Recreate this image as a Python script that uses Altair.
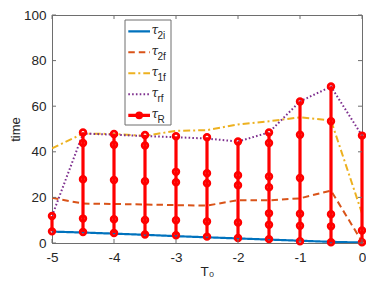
import altair as alt
import pandas as pd

# ---------------- data ----------------
x_vals = [-5, -4.5, -4, -3.5, -3, -2.5, -2, -1.5, -1, -0.5, 0]
tau_2i = [5.0, 4.6, 4.1, 3.6, 3.0, 2.5, 2.0, 1.5, 1.0, 0.5, 0.2]
tau_2f = [19.8, 17.3, 17.1, 16.9, 16.6, 16.4, 18.8, 18.7, 19.6, 23.0, 0.6]
tau_1f = [41.5, 48.0, 47.8, 47.0, 49.2, 49.5, 52.0, 53.4, 55.1, 53.8, 13.0]
tau_rf = [11.8, 48.0, 47.5, 46.9, 46.4, 45.8, 44.5, 48.5, 62.1, 68.6, 47.1]
tau_R = [
    [5.1, 11.8],
    [48.5, 43.9, 28.0, 10.7, 4.8],
    [47.8, 43.1, 27.6, 10.4, 4.4],
    [47.4, 42.8, 27.1, 10.1, 3.7],
    [46.8, 31.2, 26.6, 10.0, 3.4],
    [46.4, 30.6, 26.2, 9.4, 2.8],
    [44.5, 29.7, 25.3, 9.0, 2.2],
    [48.5, 43.9, 29.2, 24.5, 13.0, 8.0, 1.7],
    [62.1, 47.5, 28.5, 12.8, 7.6, 0.8],
    [68.6, 53.4, 12.6, 7.3, 0.3],
    [47.1, 5.5, 0.3],
]
x_ticks = [-5, -4, -3, -2, -1, 0]
y_ticks = [0, 20, 40, 60, 80, 100]
series_subs = ["2i", "2f", "1f", "rf", "R"]
series_colors = ["#0072BD", "#D95319", "#EDB120", "#7E2F8E", "#FF0000"]
series_dash = [[1, 0], [6.5, 4], [7, 3, 2, 3], [1.6, 2.2], [1, 0]]
series_width = [2.2, 2, 2, 2, 3.2]

# ---------------- chart ----------------
W, H = 310, 228
PT = 7
FONT = "Liberation Sans"
AX = "#262626"
BOX = "#6e6e6e"

xs = alt.Scale(domain=[-5, 0], nice=False, zero=False)
ys = alt.Scale(domain=[0, 100], nice=False, zero=False)

x_axis = alt.Axis(values=x_ticks, title="T₀", grid=False, ticks=False,
                  labelExpr="datum.value", labelFlush=False, labelPadding=7,
                  labelFont=FONT, labelFontSize=13.5, labelColor=AX,
                  titleFont=FONT, titleFontSize=13.5, titleFontWeight="normal",
                  titleColor=AX, titlePadding=1, domainColor=BOX, domainWidth=1)
y_axis = alt.Axis(values=y_ticks, title="time", grid=False, ticks=False,
                  labelExpr="datum.value", labelFlush=False, labelPadding=6,
                  labelFont=FONT, labelFontSize=13.5, labelColor=AX,
                  titleFont=FONT, titleFontSize=13, titleFontWeight="normal",
                  titleColor=AX, titlePadding=1, domainColor=BOX, domainWidth=1)


def X(field):
    return alt.X(field, scale=xs, axis=x_axis, title="T₀")


def Y(field):
    return alt.Y(field, scale=ys, axis=y_axis, title="time")


layers = []
series_vals = [tau_2i, tau_2f, tau_1f, tau_rf]
for i, vals in enumerate(series_vals):
    df = pd.DataFrame({"x": x_vals, "y": vals})
    layers.append(
        alt.Chart(df).mark_line(color=series_colors[i], strokeWidth=series_width[i],
                                strokeDash=series_dash[i], clip=True)
        .encode(x=X("x:Q"), y=Y("y:Q"))
    )

rows = []
for xv, group in zip(x_vals, tau_R):
    for v in group:
        rows.append({"x": xv, "y": v, "g": str(xv)})
red_df = pd.DataFrame(rows)
layers.append(
    alt.Chart(red_df).mark_line(color=series_colors[4], strokeWidth=series_width[4])
    .encode(x=X("x:Q"), y=Y("y:Q"), detail="g:N", order="y:Q")
)
layers.append(
    alt.Chart(red_df).mark_point(shape="circle", filled=False, color=series_colors[4],
                                 strokeWidth=2.8, size=32, opacity=1)
    .encode(x=X("x:Q"), y=Y("y:Q"))
)

# inward ticks (box style)
xt = pd.DataFrame({"x": x_ticks})
yt = pd.DataFrame({"y": y_ticks})
tick_len = 4
for y0, y1 in [(H, H - tick_len), (0, tick_len)]:
    layers.append(alt.Chart(xt).mark_rule(color=BOX, strokeWidth=1).encode(
        x=X("x:Q"), y=alt.value(y0), y2=alt.value(y1)))
for x0, x1 in [(0, tick_len), (W - tick_len, W)]:
    layers.append(alt.Chart(yt).mark_rule(color=BOX, strokeWidth=1).encode(
        y=Y("y:Q"), x=alt.value(x0), x2=alt.value(x1)))

# custom legend (positions in plot pixels)
one = pd.DataFrame({"a": [0]})
lx0, lx1, ly0, ly1 = 73, 119, 5, 110
layers.append(alt.Chart(one).mark_rect(fill="white", stroke=BOX, strokeWidth=1).encode(
    x=alt.value(lx0), x2=alt.value(lx1), y=alt.value(ly0), y2=alt.value(ly1)))
for i, sub in enumerate(series_subs):
    ry = ly0 + 11.3 + 21 * i
    layers.append(alt.Chart(one).mark_rule(color=series_colors[i], strokeWidth=series_width[i],
                                           strokeDash=series_dash[i]).encode(
        x=alt.value(76.3), x2=alt.value(98), y=alt.value(ry)))
    if sub == "R":
        layers.append(alt.Chart(one).mark_point(shape="circle", filled=True, color=series_colors[4],
                                                size=60, opacity=1).encode(
            x=alt.value(87.2), y=alt.value(ry)))
    layers.append(alt.Chart(one).mark_text(text="τ", font="DejaVu Serif", fontStyle="italic",
                                           fontSize=12, align="left", baseline="alphabetic",
                                           color=AX).encode(
        x=alt.value(99.5), y=alt.value(ry + 2.5)))
    layers.append(alt.Chart(one).mark_text(text=sub, font=FONT, fontSize=10, align="left",
                                           baseline="alphabetic", color=AX).encode(
        x=alt.value(105.5), y=alt.value(ry + 7.3)))

chart = alt.layer(*layers).properties(
    width=W, height=H,
    autosize=alt.AutoSizeParams(type="none"),
    padding={"left": 44, "top": PT, "right": 4, "bottom": 36},
).configure_view(stroke=BOX, strokeWidth=1)

chart.save("out.html", embed_options={"renderer": "svg", "actions": False})
